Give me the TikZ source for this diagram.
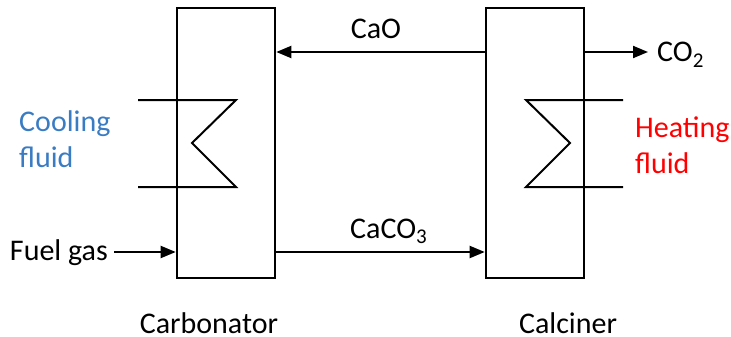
\documentclass[tikz,border=0pt]{standalone}
\usepackage{fontspec}
\setmainfont{Carlito}
\usetikzlibrary{arrows.meta}
\definecolor{coolblue}{HTML}{3A7CC3}
\definecolor{heatred}{HTML}{FF0000}
\tikzset{
  reactor/.style={draw, line width=2.6pt, minimum width=98pt, minimum height=270pt, inner sep=0pt},
  flow/.style={line width=2pt, -{Triangle[length=15pt,width=12pt]}},
  hx/.style={line width=2pt},
  lbl/.style={font=\fontsize{30}{36}\selectfont, inner sep=0pt},
}
\begin{document}
\begin{tikzpicture}[x=1pt,y=-1pt]
\useasboundingbox (0,0) rectangle (731,337);
\node[reactor] (carb) at (226,143) {};
\node[reactor] (calc) at (535,143) {};
% heat exchangers
\draw[hx] (138,100) -- (236,100) -- (192,143) -- (236,187) -- (138,187);
\draw[hx] (623,100) -- (526,100) -- (570,143) -- (526,187) -- (623,187);
% coordinates
\coordinate (caoS) at (calc.west |- 0,52);
\coordinate (caoE) at (carb.east |- 0,52);
\coordinate (cacS) at (carb.east |- 0,252);
\coordinate (cacE) at (calc.west |- 0,252);
\coordinate (co2S) at (calc.east |- 0,52);
\coordinate (co2E) at (648,52);
\coordinate (fgS) at (114,252);
\coordinate (fgE) at (carb.west |- 0,252);
\draw[flow] (caoS) -- (caoE);
\draw[flow] (cacS) -- (cacE);
\draw[flow] (co2S) -- (co2E);
\draw[flow] (fgS) -- (fgE);
% labels
\node[lbl, anchor=base] (lcao) at (376,39) {CaO};
\node[lbl, anchor=base west] (lcac) at (350,238) {CaCO\textsubscript{3}};
\node[lbl, anchor=base west] (lco2) at (657,62) {CO\textsubscript{2}};
\node[lbl, anchor=base east] (lfg) at (108,260) {Fuel gas};
\node[lbl, anchor=west, align=left, text=coolblue] (lcool) at (19,139) {Cooling\\fluid};
\node[lbl, anchor=west, align=left, text=heatred] (lheat) at (635,145) {Heating\\fluid};
\node[lbl, anchor=base, text depth=0pt] (lcarb) at (209,333) {Carbonator};
\node[lbl, anchor=base, text depth=0pt] (lcalc) at (568,333) {Calciner};
\end{tikzpicture}
\end{document}
